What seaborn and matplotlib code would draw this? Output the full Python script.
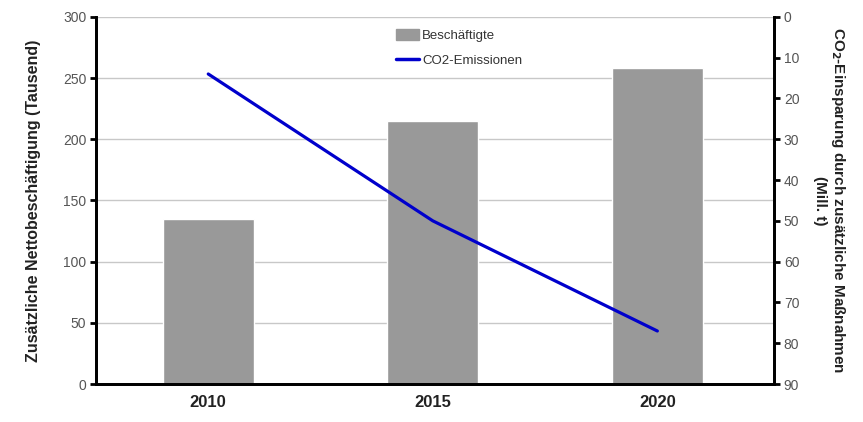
import matplotlib
matplotlib.use("Agg")
import matplotlib.pyplot as plt
import matplotlib.patches as mpatches
import matplotlib.lines as mlines
import seaborn as sns
import pandas as pd
import numpy as np

# Data
years = ["2010", "2015", "2020"]
jobs = [135, 215, 258]          # additional net employment (thousand)
co2_savings = [14, 50, 77]      # CO2 savings (million t)

sns.set_theme(style="white")
plt.rcParams["font.family"] = ["Liberation Sans", "DejaVu Sans"]

df = pd.DataFrame({"year": years, "jobs": jobs, "co2": co2_savings,
                   "pos": np.arange(len(years))})

fig = plt.figure(figsize=(8.63, 4.22), dpi=100)
ax = fig.add_axes([0.1112, 0.09, 0.7858, 0.87])

bar_color = "#999999"
line_color = "#0000cc"
tick_color = "#555555"

sns.barplot(data=df, x="year", y="jobs", color=bar_color, width=0.405,
            saturation=1, ax=ax, zorder=2)
ax.set_xlim(-0.5, 2.52)
ax.set_ylim(0, 300)
ax.set_yticks(np.arange(0, 301, 50))
ax.yaxis.grid(True, color="#c8c8c8", linewidth=1.0, zorder=0)
ax.set_axisbelow(True)
ax.set_xlabel("")
ax.set_ylabel("Zusätzliche Nettobeschäftigung (Tausend)", fontsize=11.5,
              fontweight="bold", color="#222222", labelpad=16)
for lbl in ax.get_xticklabels():
    lbl.set_fontweight("bold")
    lbl.set_fontsize(12)
    lbl.set_family(["Liberation Sans Narrow", "Liberation Sans", "DejaVu Sans"])
    lbl.set_color("#222222")
ax.tick_params(axis="x", length=0, pad=8)
ax.tick_params(axis="y", direction="out", length=4, width=2, color="black",
               labelsize=10, labelcolor=tick_color, left=True, pad=3)

ax2 = ax.twinx()
sns.lineplot(data=df, x="pos", y="co2", color=line_color, linewidth=2.3,
             ax=ax2, zorder=3)
ax2.set_ylim(90, 0)
ax2.set_yticks(np.arange(0, 91, 10))
ax2.set_xlim(-0.5, 2.52)
ax2.set_ylabel("CO$_\\mathbf{2}$-Einsparung durch zusätzliche Maßnahmen\n(Mill. t)",
               rotation=270, fontsize=11, fontweight="bold", color="#222222",
               labelpad=22, linespacing=1.25, ha="center", va="center")
ax2.tick_params(axis="y", direction="out", length=4, width=2, color="black",
                labelsize=10, labelcolor=tick_color, right=True, pad=3)
ax2.grid(False)

for a in (ax, ax2):
    for side in ("left", "right", "bottom"):
        a.spines[side].set_visible(True)
        a.spines[side].set_color("black")
        a.spines[side].set_linewidth(2)
    a.spines["top"].set_visible(False)

bar_handle = mpatches.Patch(color=bar_color, label="Beschäftigte")
line_handle = mlines.Line2D([], [], color=line_color, linewidth=2.5,
                            label="CO2-Emissionen")
leg = ax2.legend(handles=[bar_handle, line_handle], loc="upper center",
                 bbox_to_anchor=(0.535, 1.0), frameon=False, fontsize=9.5,
                 handlelength=1.8, handleheight=0.9, handletextpad=0.2,
                 labelspacing=0.9)
for t in leg.get_texts():
    t.set_color("#333333")

fig.savefig("out.png", dpi=100, facecolor="white")
